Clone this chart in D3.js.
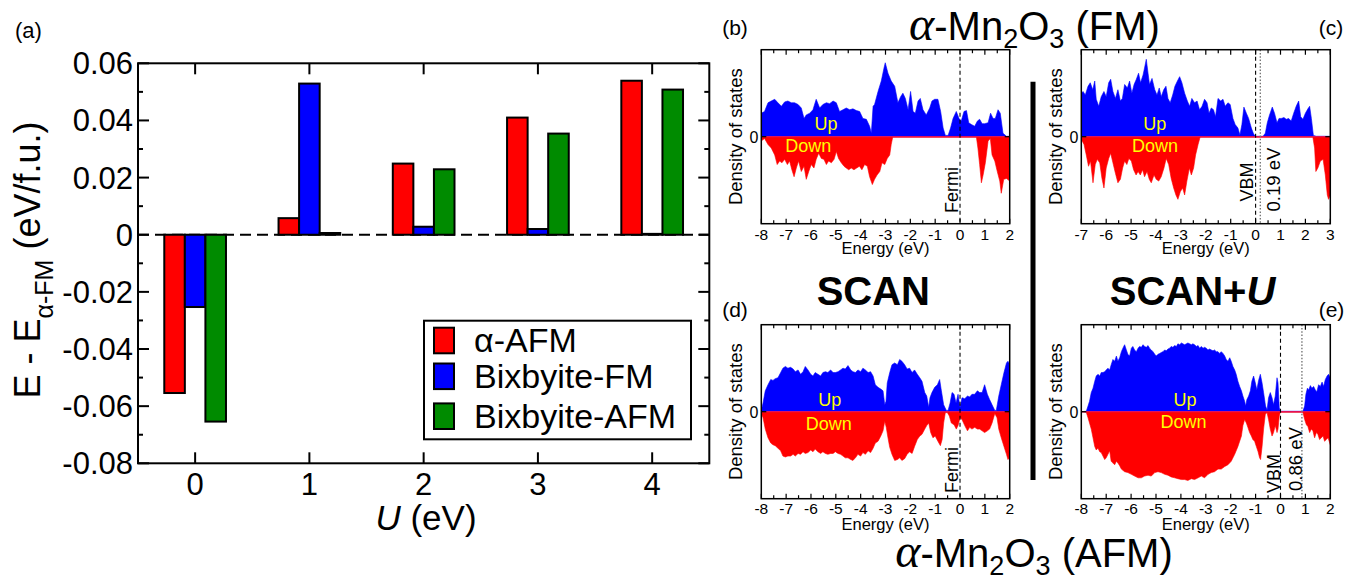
<!DOCTYPE html>
<html><head><meta charset="utf-8">
<script src="https://cdn.jsdelivr.net/npm/d3@7"></script>
<style>
body{margin:0;background:#fff}
svg{display:block}
text{font-family:"Liberation Sans",Arial,Helvetica,sans-serif;fill:#000}
</style>
</head><body>
<svg id="fig" width="1347" height="575"></svg>
<script>
// ---------------- DATA: panel (a) ----------------
const U = [0, 1, 2, 3, 4];
const seriesNames = ["α-AFM", "Bixbyite-FM", "Bixbyite-AFM"];
const alphaAFM = [-0.0554, 0.0058, 0.0249, 0.0410, 0.0539];
const bixbyiteFM = [-0.0253, 0.0529, 0.0028, 0.0020, 0.0003];
const bixbyiteAFM = [-0.0654, 0.0006, 0.0229, 0.0354, 0.0508];
const yTicksA = [-0.08, -0.06, -0.04, -0.02, 0, 0.02, 0.04, 0.06];
const yTickLabelsA = ["-0.08", "-0.06", "-0.04", "-0.02", "0", "0.02", "0.04", "0.06"];
const yMinorA = [-0.07, -0.05, -0.03, -0.01, 0.01, 0.03, 0.05];
const xTickLabelsA = ["0", "1", "2", "3", "4"];

// ---------------- DATA: DOS panels [energy eV, DOS (arb.)] ----------------
const dosTicksB = [-8, -7, -6, -5, -4, -3, -2, -1, 0, 1, 2];
const dosTicksC = [-7, -6, -5, -4, -3, -2, -1, 0, 1, 2, 3];

const dosB_up = [[-8.00,2.7],[-7.87,2.9],[-7.73,3.9],[-7.60,4.1],[-7.46,4.3],[-7.33,3.9],[-7.19,3.5],[-7.06,4.0],[-6.93,4.1],[-6.79,3.9],[-6.66,3.9],[-6.52,3.7],[-6.39,3.3],[-6.28,2.1],[-6.19,2.5],[-6.05,2.7],[-5.92,3.1],[-5.79,4.3],[-5.65,3.3],[-5.52,3.7],[-5.38,3.9],[-5.25,3.8],[-5.11,4.1],[-4.98,3.9],[-4.85,2.9],[-4.71,3.1],[-4.58,3.3],[-4.44,3.1],[-4.31,3.2],[-4.17,3.0],[-4.04,2.9],[-3.91,2.1],[-3.77,2.0],[-3.64,1.2],[-3.57,0.4],[-3.50,3.5],[-3.44,3.7],[-3.30,5.2],[-3.17,6.4],[-3.06,7.9],[-3.01,8.5],[-2.90,7.3],[-2.77,6.4],[-2.63,5.8],[-2.50,3.9],[-2.39,4.6],[-2.30,5.0],[-2.20,4.4],[-2.09,3.1],[-1.99,5.2],[-1.89,2.9],[-1.80,2.7],[-1.69,4.1],[-1.60,4.4],[-1.49,3.1],[-1.36,2.5],[-1.22,3.3],[-1.13,4.1],[-1.02,4.3],[-0.89,4.3],[-0.78,2.9],[-0.68,1.0],[-0.59,0.15],[-0.48,0.15],[-0.38,1.0],[-0.28,2.1],[-0.15,2.9],[-0.04,2.1],[0.05,1.8],[0.16,2.9],[0.26,3.0],[0.35,1.6],[0.46,1.4],[0.59,1.2],[0.70,1.8],[0.79,2.0],[0.89,1.5],[0.99,1.5],[1.13,1.6],[1.23,2.7],[1.33,2.1],[1.42,2.1],[1.53,3.1],[1.62,2.7],[1.73,0.4],[1.87,0.05],[2.00,0.05]];
const dosB_dn = [[-8.00,0.5],[-7.87,0.2],[-7.73,0.9],[-7.60,1.3],[-7.46,2.1],[-7.36,3.2],[-7.26,2.8],[-7.17,3.0],[-7.06,2.6],[-6.95,3.2],[-6.86,2.8],[-6.77,3.8],[-6.68,4.6],[-6.59,3.6],[-6.50,2.8],[-6.39,4.0],[-6.28,3.4],[-6.19,4.9],[-6.09,4.0],[-5.99,3.2],[-5.88,3.6],[-5.79,2.6],[-5.69,1.9],[-5.58,2.5],[-5.48,2.6],[-5.38,3.2],[-5.29,2.8],[-5.18,3.0],[-5.07,2.6],[-4.98,1.7],[-4.89,2.5],[-4.78,3.0],[-4.67,3.4],[-4.58,3.6],[-4.48,3.8],[-4.38,3.6],[-4.27,3.8],[-4.16,3.6],[-4.05,3.4],[-3.95,3.8],[-3.84,3.2],[-3.73,3.4],[-3.64,4.6],[-3.53,5.5],[-3.44,4.9],[-3.34,4.4],[-3.23,4.0],[-3.14,3.0],[-3.03,3.2],[-2.93,2.5],[-2.83,2.1],[-2.77,0.9],[-2.71,0.05],[0.66,0.05],[0.72,1.3],[0.79,3.2],[0.86,5.3],[0.93,4.4],[1.02,3.0],[1.13,0.5],[1.22,0.2],[1.29,2.1],[1.40,2.8],[1.50,4.0],[1.60,5.1],[1.66,6.5],[1.76,4.9],[1.87,4.8],[2.00,5.1]];

const dosC_up = [[-7.00,5.0],[-6.93,5.2],[-6.84,4.8],[-6.73,5.8],[-6.64,6.2],[-6.54,5.4],[-6.46,6.4],[-6.40,4.3],[-6.30,3.5],[-6.20,4.6],[-6.09,5.2],[-6.00,4.6],[-5.90,6.2],[-5.82,6.6],[-5.73,5.2],[-5.63,4.4],[-5.53,5.4],[-5.43,4.1],[-5.35,4.4],[-5.26,6.0],[-5.15,5.6],[-5.06,6.4],[-4.97,5.0],[-4.88,6.0],[-4.79,6.6],[-4.70,7.3],[-4.62,6.2],[-4.52,7.1],[-4.46,7.9],[-4.39,8.9],[-4.32,7.3],[-4.26,6.0],[-4.16,6.7],[-4.05,5.4],[-3.96,4.8],[-3.87,5.6],[-3.79,4.6],[-3.69,5.4],[-3.60,5.8],[-3.52,4.4],[-3.43,3.9],[-3.33,4.8],[-3.24,5.8],[-3.14,6.4],[-3.05,6.9],[-2.96,6.2],[-2.85,5.0],[-2.74,4.1],[-2.65,3.5],[-2.56,4.4],[-2.45,3.9],[-2.35,4.1],[-2.25,3.1],[-2.15,3.5],[-2.05,4.3],[-1.95,3.9],[-1.87,2.7],[-1.78,3.3],[-1.69,3.1],[-1.61,2.3],[-1.51,4.4],[-1.40,4.1],[-1.31,4.3],[-1.22,3.5],[-1.11,3.9],[-1.02,3.7],[-0.91,2.1],[-0.82,1.4],[-0.71,1.0],[-0.63,0.2],[-0.55,1.4],[-0.47,3.4],[-0.37,2.7],[-0.28,2.1],[-0.17,1.0],[-0.08,0.3],[0.00,0.05],[0.30,0.05],[0.39,0.4],[0.47,1.6],[0.56,2.5],[0.67,3.4],[0.76,2.7],[0.86,1.6],[0.94,2.1],[1.03,2.1],[1.14,2.2],[1.23,2.0],[1.33,2.1],[1.43,1.8],[1.53,2.7],[1.63,3.5],[1.73,4.1],[1.81,2.3],[1.90,2.0],[2.00,2.7],[2.10,3.2],[2.17,3.5],[2.24,2.1],[2.32,0.15],[2.44,0.05],[3.00,0.05]];
const dosC_dn = [[-7.00,0.3],[-6.89,0.9],[-6.80,2.1],[-6.71,3.4],[-6.63,2.8],[-6.53,5.3],[-6.44,3.2],[-6.36,2.6],[-6.26,3.0],[-6.17,4.8],[-6.09,5.9],[-6.00,3.6],[-5.90,2.5],[-5.82,1.9],[-5.73,3.0],[-5.63,4.2],[-5.53,5.3],[-5.43,4.9],[-5.34,3.6],[-5.26,2.8],[-5.17,3.2],[-5.09,2.5],[-4.99,2.8],[-4.90,3.8],[-4.80,4.4],[-4.72,4.0],[-4.63,4.4],[-4.54,3.8],[-4.46,4.6],[-4.36,4.0],[-4.27,4.9],[-4.19,5.3],[-4.08,4.4],[-3.99,4.9],[-3.89,5.1],[-3.79,4.6],[-3.68,3.6],[-3.59,2.5],[-3.49,3.2],[-3.39,4.8],[-3.29,5.9],[-3.20,6.7],[-3.12,7.2],[-3.02,6.3],[-2.93,5.9],[-2.85,6.7],[-2.76,5.1],[-2.66,3.6],[-2.58,4.4],[-2.49,3.6],[-2.41,2.1],[-2.31,0.9],[-2.23,0.05],[2.30,0.05],[2.37,1.3],[2.42,4.0],[2.50,3.6],[2.60,2.8],[2.71,2.6],[2.80,4.4],[2.88,6.7],[2.93,7.2],[3.00,6.7]];

const dosD_up = [[-8.00,0.15],[-7.93,1.0],[-7.84,2.4],[-7.73,3.1],[-7.62,3.7],[-7.53,3.6],[-7.44,3.8],[-7.33,3.9],[-7.22,4.5],[-7.13,5.0],[-7.03,5.2],[-6.93,5.0],[-6.82,5.1],[-6.72,4.9],[-6.63,4.6],[-6.52,4.8],[-6.42,4.3],[-6.32,4.6],[-6.23,5.2],[-6.12,4.8],[-6.01,4.3],[-5.92,4.1],[-5.83,4.5],[-5.72,4.3],[-5.61,4.1],[-5.52,4.5],[-5.42,4.6],[-5.32,4.5],[-5.21,4.8],[-5.11,4.5],[-5.02,4.5],[-4.91,4.6],[-4.81,4.8],[-4.71,5.0],[-4.62,4.9],[-4.51,5.3],[-4.40,4.8],[-4.31,4.6],[-4.21,4.5],[-4.11,4.8],[-4.00,4.6],[-3.91,5.0],[-3.81,4.8],[-3.70,4.5],[-3.60,4.6],[-3.50,4.1],[-3.41,3.1],[-3.30,2.8],[-3.19,2.6],[-3.10,2.4],[-3.03,0.8],[-2.98,1.2],[-2.93,3.3],[-2.83,4.5],[-2.74,5.4],[-2.63,5.6],[-2.52,5.4],[-2.43,6.0],[-2.34,5.8],[-2.23,5.4],[-2.13,4.9],[-2.03,5.0],[-1.93,4.5],[-1.83,4.8],[-1.72,4.3],[-1.62,3.9],[-1.53,3.5],[-1.42,2.2],[-1.34,1.8],[-1.26,0.5],[-1.21,1.6],[-1.13,2.2],[-1.02,2.8],[-0.91,3.1],[-0.82,3.7],[-0.75,2.4],[-0.66,0.8],[-0.55,0.15],[-0.48,0.15],[-0.40,1.0],[-0.32,2.2],[-0.24,2.0],[-0.16,1.0],[-0.08,2.0],[0.00,0.5],[0.08,1.6],[0.19,1.5],[0.30,1.8],[0.39,1.7],[0.48,2.0],[0.59,2.0],[0.70,2.4],[0.79,2.2],[0.89,2.2],[0.99,3.1],[1.10,2.0],[1.19,1.4],[1.29,0.8],[1.40,0.15],[1.46,0.15],[1.56,1.8],[1.66,3.1],[1.77,4.5],[1.87,5.6],[1.93,5.8],[2.00,5.4]];
const dosD_dn = [[-8.00,0.2],[-7.93,0.7],[-7.84,2.0],[-7.73,3.0],[-7.62,3.6],[-7.53,3.8],[-7.44,3.9],[-7.33,4.2],[-7.22,4.5],[-7.13,5.1],[-7.03,5.2],[-6.93,5.1],[-6.82,5.1],[-6.72,4.9],[-6.63,5.1],[-6.52,4.8],[-6.42,4.9],[-6.32,4.6],[-6.23,4.8],[-6.12,4.7],[-6.01,4.4],[-5.92,4.6],[-5.83,4.3],[-5.72,4.6],[-5.61,4.8],[-5.52,4.6],[-5.42,4.8],[-5.32,4.9],[-5.21,4.8],[-5.11,4.8],[-5.02,4.6],[-4.91,4.8],[-4.81,4.9],[-4.71,5.1],[-4.62,5.3],[-4.51,5.3],[-4.40,5.5],[-4.31,5.6],[-4.21,5.3],[-4.11,4.9],[-4.00,5.1],[-3.91,4.7],[-3.81,4.9],[-3.70,4.5],[-3.60,4.7],[-3.50,4.2],[-3.41,3.6],[-3.30,3.4],[-3.19,2.8],[-3.10,2.2],[-3.03,1.1],[-2.97,1.8],[-2.90,3.0],[-2.83,4.1],[-2.74,4.9],[-2.63,5.6],[-2.52,5.5],[-2.43,5.3],[-2.34,5.6],[-2.23,5.4],[-2.13,4.9],[-2.03,4.6],[-1.93,4.8],[-1.83,4.0],[-1.72,3.2],[-1.62,2.8],[-1.53,2.6],[-1.42,2.0],[-1.34,1.6],[-1.26,1.3],[-1.18,2.4],[-1.09,3.0],[-1.00,2.8],[-0.89,3.4],[-0.79,3.9],[-0.72,3.2],[-0.66,1.3],[-0.59,0.1],[-0.51,0.1],[-0.43,0.5],[-0.35,1.3],[-0.24,1.5],[-0.15,2.0],[-0.08,1.6],[0.00,0.7],[0.08,0.9],[0.19,1.6],[0.30,2.2],[0.39,1.8],[0.48,2.0],[0.59,1.8],[0.70,2.0],[0.79,2.0],[0.89,2.2],[0.99,2.4],[1.10,2.2],[1.19,2.0],[1.29,1.3],[1.40,0.2],[1.49,0.7],[1.56,2.0],[1.66,3.0],[1.77,4.0],[1.87,4.9],[1.93,5.5],[2.00,5.3]];

const dosE_up = [[-8.00,0],[-7.80,0.05],[-7.73,0.65],[-7.67,1.2],[-7.60,2.2],[-7.53,2.7],[-7.46,3.5],[-7.40,4.1],[-7.33,4.3],[-7.26,4.1],[-7.20,4.5],[-7.13,4.5],[-7.06,4.6],[-7.00,4.8],[-6.93,5.0],[-6.86,4.8],[-6.80,5.4],[-6.73,6.0],[-6.66,5.8],[-6.59,6.4],[-6.53,5.8],[-6.46,6.2],[-6.39,6.9],[-6.33,7.3],[-6.26,7.7],[-6.19,7.1],[-6.13,6.6],[-6.06,6.4],[-5.99,7.3],[-5.93,7.5],[-5.86,7.1],[-5.79,6.9],[-5.72,7.3],[-5.66,7.5],[-5.59,7.4],[-5.52,7.7],[-5.46,7.5],[-5.39,7.4],[-5.32,7.6],[-5.26,7.3],[-5.19,7.1],[-5.12,6.9],[-5.05,6.6],[-4.99,6.4],[-4.92,6.6],[-4.85,6.7],[-4.79,6.8],[-4.72,6.9],[-4.65,7.1],[-4.59,7.0],[-4.52,7.2],[-4.45,7.3],[-4.39,7.5],[-4.32,7.4],[-4.25,7.6],[-4.18,7.5],[-4.12,7.8],[-4.05,7.7],[-3.98,7.9],[-3.92,7.8],[-3.85,7.7],[-3.78,7.8],[-3.72,7.9],[-3.65,7.8],[-3.58,7.7],[-3.52,7.8],[-3.45,7.7],[-3.38,7.5],[-3.31,7.6],[-3.25,7.3],[-3.18,7.5],[-3.11,7.3],[-3.05,7.4],[-2.98,7.3],[-2.91,7.1],[-2.85,7.2],[-2.78,7.1],[-2.71,7.0],[-2.65,7.1],[-2.58,6.9],[-2.51,6.9],[-2.44,6.7],[-2.38,6.9],[-2.31,6.7],[-2.24,6.4],[-2.18,6.0],[-2.11,5.8],[-2.04,6.2],[-1.98,5.8],[-1.91,5.2],[-1.84,4.8],[-1.78,4.3],[-1.71,3.5],[-1.64,2.9],[-1.57,2.4],[-1.51,1.8],[-1.44,1.2],[-1.40,0.65],[-1.35,1.4],[-1.28,1.8],[-1.21,2.4],[-1.15,3.5],[-1.08,4.1],[-1.01,3.3],[-0.95,2.5],[-0.88,3.6],[-0.81,4.3],[-0.74,3.3],[-0.68,2.2],[-0.60,0.65],[-0.54,0.2],[-0.48,1.6],[-0.41,2.2],[-0.34,1.6],[-0.28,0.8],[-0.21,1.8],[-0.14,3.9],[-0.10,3.3],[-0.05,0.45],[-0.01,0.05],[0.90,0.05],[0.97,0.65],[1.02,2.0],[1.08,2.7],[1.13,2.5],[1.20,3.0],[1.26,2.7],[1.33,2.9],[1.40,2.5],[1.46,2.3],[1.53,3.1],[1.60,2.9],[1.67,3.4],[1.73,2.9],[1.80,3.7],[1.87,4.1],[1.93,4.3],[2.00,3.9]];
const dosE_dn = [[-8.00,0],[-7.80,0.05],[-7.73,0.7],[-7.67,1.3],[-7.60,2.0],[-7.53,3.0],[-7.46,4.0],[-7.40,4.4],[-7.33,4.2],[-7.26,4.6],[-7.20,4.7],[-7.13,5.1],[-7.06,5.5],[-7.00,5.3],[-6.93,4.9],[-6.86,4.5],[-6.80,5.7],[-6.73,5.9],[-6.66,6.1],[-6.59,5.7],[-6.53,5.9],[-6.46,6.2],[-6.39,6.6],[-6.26,6.9],[-6.13,7.0],[-5.99,7.2],[-5.86,7.4],[-5.72,7.6],[-5.59,7.6],[-5.46,7.4],[-5.32,7.3],[-5.19,7.4],[-5.05,7.0],[-4.92,6.9],[-4.79,7.0],[-4.65,7.2],[-4.52,7.3],[-4.39,7.5],[-4.25,7.6],[-4.12,7.7],[-3.98,7.8],[-3.85,7.8],[-3.72,7.9],[-3.58,7.7],[-3.45,7.8],[-3.31,7.6],[-3.18,7.4],[-3.05,7.6],[-2.91,7.2],[-2.78,7.0],[-2.65,6.9],[-2.51,6.6],[-2.38,6.6],[-2.24,6.3],[-2.11,6.1],[-1.98,5.7],[-1.84,4.9],[-1.71,4.0],[-1.57,2.8],[-1.51,1.6],[-1.44,0.9],[-1.37,1.3],[-1.31,1.8],[-1.24,2.4],[-1.17,2.8],[-1.11,3.2],[-1.04,3.4],[-0.97,4.0],[-0.90,4.6],[-0.84,5.3],[-0.80,5.5],[-0.74,4.0],[-0.68,2.0],[-0.61,0.3],[-0.54,0.1],[-0.48,0.9],[-0.41,2.0],[-0.34,2.8],[-0.28,2.4],[-0.21,1.6],[-0.14,2.4],[-0.10,2.0],[-0.05,0.5],[-0.01,0.05],[0.90,0.05],[0.97,0.9],[1.04,1.5],[1.10,1.7],[1.17,2.4],[1.24,2.0],[1.30,2.2],[1.37,3.0],[1.44,2.4],[1.50,2.6],[1.57,3.2],[1.64,3.0],[1.71,2.8],[1.77,3.4],[1.84,3.2],[1.91,3.0],[2.00,3.8]];

// ---------------- DRAW ----------------
const svg = d3.select("#fig");
const SERIF = "'Liberation Serif', 'Times New Roman', serif";

// ===== Panel (a) =====
const A = {l: 138, r: 709.3, t: 63.3, b: 463.3};
const xA = d3.scaleLinear().domain([-0.5, 4.5]).range([A.l, A.r]);
const yA = d3.scaleLinear().domain([-0.08, 0.06]).range([A.b, A.t]);
const barColors = ["#ff0000", "#0000ff", "#008b00"];
const barOffsets = [-0.18, 0, 0.18];
const barW = 0.18;
const seriesVals = [alphaAFM, bixbyiteFM, bixbyiteAFM];

const gA = svg.append("g");
gA.append("line").attr("x1", A.l).attr("x2", A.r).attr("y1", yA(0)).attr("y2", yA(0))
  .attr("stroke", "#000").attr("stroke-width", 2).attr("stroke-dasharray", "11,6");

seriesVals.forEach((vals, s) => {
  gA.selectAll(null).data(vals.map((v, i) => ({u: U[i], v}))).enter().append("rect")
    .attr("x", d => xA(d.u + barOffsets[s] - barW / 2))
    .attr("width", xA(barW) - xA(0))
    .attr("y", d => yA(Math.max(0, d.v)))
    .attr("height", d => Math.abs(yA(d.v) - yA(0)))
    .attr("fill", barColors[s]).attr("stroke", "#000").attr("stroke-width", 2);
});

gA.append("rect").attr("x", A.l).attr("y", A.t).attr("width", A.r - A.l).attr("height", A.b - A.t)
  .attr("fill", "none").attr("stroke", "#000").attr("stroke-width", 2);

yTicksA.forEach(v => {
  gA.append("line").attr("x1", A.l).attr("x2", A.l + 11).attr("y1", yA(v)).attr("y2", yA(v)).attr("stroke", "#000").attr("stroke-width", 2);
  gA.append("line").attr("x1", A.r - 11).attr("x2", A.r).attr("y1", yA(v)).attr("y2", yA(v)).attr("stroke", "#000").attr("stroke-width", 2);
});
yMinorA.forEach(v => {
  gA.append("line").attr("x1", A.l).attr("x2", A.l + 5).attr("y1", yA(v)).attr("y2", yA(v)).attr("stroke", "#000").attr("stroke-width", 2);
  gA.append("line").attr("x1", A.r - 5).attr("x2", A.r).attr("y1", yA(v)).attr("y2", yA(v)).attr("stroke", "#000").attr("stroke-width", 2);
});
U.forEach(u => {
  gA.append("line").attr("x1", xA(u)).attr("x2", xA(u)).attr("y1", A.b).attr("y2", A.b - 11).attr("stroke", "#000").attr("stroke-width", 2);
  gA.append("line").attr("x1", xA(u)).attr("x2", xA(u)).attr("y1", A.t).attr("y2", A.t + 11).attr("stroke", "#000").attr("stroke-width", 2);
});
yTicksA.forEach((v, i) => {
  gA.append("text").attr("x", 133).attr("y", yA(v) + 11).attr("text-anchor", "end")
    .attr("font-size", 31).text(yTickLabelsA[i]);
});
U.forEach((u, i) => {
  gA.append("text").attr("x", xA(u)).attr("y", 495).attr("text-anchor", "middle")
    .attr("font-size", 31).text(xTickLabelsA[i]);
});
const xt = gA.append("text").attr("x", 426).attr("y", 530).attr("text-anchor", "middle").attr("font-size", 35);
xt.append("tspan").attr("font-style", "italic").text("U");
xt.append("tspan").text(" (eV)");
const yt = gA.append("text").attr("transform", "translate(40,260) rotate(-90)").attr("text-anchor", "middle").attr("font-size", 36);
yt.append("tspan").text("E - E");
yt.append("tspan").attr("font-size", 25).attr("dy", 13).text("α-FM");
yt.append("tspan").attr("dy", -13).text(" (eV/f.u.)");
gA.append("text").attr("x", 15).attr("y", 38).attr("font-size", 22).text("(a)");

const LG = {x: 424, y: 320.7, w: 267, h: 118.6};
gA.append("rect").attr("x", LG.x).attr("y", LG.y).attr("width", LG.w).attr("height", LG.h)
  .attr("fill", "#fff").attr("stroke", "#000").attr("stroke-width", 2);
const legCenters = [340.5, 376.3, 416.2];
seriesNames.forEach((name, i) => {
  gA.append("rect").attr("x", 434).attr("y", legCenters[i] - 12.8).attr("width", 20).attr("height", 25.6)
    .attr("fill", barColors[i]).attr("stroke", "#000").attr("stroke-width", 2);
  gA.append("text").attr("x", 474).attr("y", legCenters[i] + 11.5).attr("font-size", 34).text(name);
});

// ===== DOS panels =====
const panels = [
  {id: "b", l: 761.3, r: 1009.7, t: 49.7, b: 223.7, dom: [-8, 2], ticks: dosTicksB, up: dosB_up, dn: dosB_dn,
   label: "(b)", labelXY: [735, 35], tickBase: 240, eBase: 254, dsX: 742, zeroX: 758.5,
   upXY: [826, 129.7], dnXY: [808.3, 152], dashE: 0, dashText: "Fermi", dashTextXY: [958, 213], gapE: null},
  {id: "c", l: 1081.3, r: 1330.3, t: 49.7, b: 223.7, dom: [-7, 3], ticks: dosTicksC, up: dosC_up, dn: dosC_dn,
   label: "(c)", labelXY: [1331, 35], tickBase: 240, eBase: 254, dsX: 1062, zeroX: 1078.3,
   upXY: [1154.7, 129.7], dnXY: [1155, 152], dashE: 0, dashText: "VBM", dashTextXY: [1253, 201.5],
   gapE: 0.19, gapText: "0.19 eV", gapTextXY: [1279.5, 211.5]},
  {id: "d", l: 761.3, r: 1009.7, t: 324.7, b: 498.7, dom: [-8, 2], ticks: dosTicksB, up: dosD_up, dn: dosD_dn,
   label: "(d)", labelXY: [735, 317], tickBase: 513.5, eBase: 530, dsX: 742, zeroX: 758.5,
   upXY: [829.7, 406.3], dnXY: [828.8, 429.7], dashE: 0, dashText: "Fermi", dashTextXY: [958, 493], gapE: null},
  {id: "e", l: 1081.3, r: 1330.3, t: 324.7, b: 498.7, dom: [-8, 2], ticks: dosTicksB, up: dosE_up, dn: dosE_dn,
   label: "(e)", labelXY: [1331.5, 317], tickBase: 513.5, eBase: 530, dsX: 1062, zeroX: 1078.3,
   upXY: [1185, 405.7], dnXY: [1183.5, 428], dashE: 0, dashText: "VBM", dashTextXY: [1279.7, 493],
   gapE: 0.86, gapText: "0.86 eV", gapTextXY: [1301.5, 491]}
];

panels.forEach(p => {
  const x = d3.scaleLinear().domain(p.dom).range([p.l, p.r]);
  const y = d3.scaleLinear().domain([-10, 10]).range([p.b, p.t]);
  const g = svg.append("g");
  const cid = "clip_" + p.id;
  svg.append("clipPath").attr("id", cid).append("rect")
    .attr("x", p.l).attr("y", p.t).attr("width", p.r - p.l).attr("height", p.b - p.t);
  const gc = g.append("g").attr("clip-path", `url(#${cid})`);
  const areaUp = d3.area().x(d => x(d[0])).y0(y(0)).y1(d => y(d[1]));
  const areaDn = d3.area().x(d => x(d[0])).y0(y(0)).y1(d => y(-d[1]));
  gc.append("path").datum(p.up).attr("d", areaUp).attr("fill", "#0000ff").attr("stroke", "#0000ff").attr("stroke-width", 0.6);
  gc.append("path").datum(p.dn).attr("d", areaDn).attr("fill", "#ff0000").attr("stroke", "#ff0000").attr("stroke-width", 0.6);
  gc.append("line").attr("x1", p.l).attr("x2", p.r).attr("y1", y(0)).attr("y2", y(0))
    .attr("stroke", "#e0105a").attr("stroke-width", 1.3);
  gc.append("line").attr("x1", x(p.dashE)).attr("x2", x(p.dashE)).attr("y1", p.t).attr("y2", p.b)
    .attr("stroke", "#000").attr("stroke-width", 1.1).attr("stroke-dasharray", "4,3");
  if (p.gapE !== null) {
    gc.append("line").attr("x1", x(p.gapE)).attr("x2", x(p.gapE)).attr("y1", p.t).attr("y2", p.b)
      .attr("stroke", "#777").attr("stroke-width", 1.4).attr("stroke-dasharray", "1.5,1.8");
  }
  g.append("rect").attr("x", p.l).attr("y", p.t).attr("width", p.r - p.l).attr("height", p.b - p.t)
    .attr("fill", "none").attr("stroke", "#000").attr("stroke-width", 1.5);
  const minor = x.ticks(20).filter(v => !Number.isInteger(v));
  p.ticks.forEach(v => {
    g.append("line").attr("x1", x(v)).attr("x2", x(v)).attr("y1", p.b).attr("y2", p.b - 5).attr("stroke", "#000").attr("stroke-width", 1.2);
    g.append("line").attr("x1", x(v)).attr("x2", x(v)).attr("y1", p.t).attr("y2", p.t + 5).attr("stroke", "#000").attr("stroke-width", 1.2);
    g.append("text").attr("x", x(v)).attr("y", p.tickBase).attr("text-anchor", "middle").attr("font-size", 15.5).text(String(v));
  });
  minor.forEach(v => {
    g.append("line").attr("x1", x(v)).attr("x2", x(v)).attr("y1", p.b).attr("y2", p.b - 3.5).attr("stroke", "#000").attr("stroke-width", 1.2);
    g.append("line").attr("x1", x(v)).attr("x2", x(v)).attr("y1", p.t).attr("y2", p.t + 3.5).attr("stroke", "#000").attr("stroke-width", 1.2);
  });
  g.append("line").attr("x1", p.l).attr("x2", p.l + 5).attr("y1", y(0)).attr("y2", y(0)).attr("stroke", "#000").attr("stroke-width", 1.2);
  g.append("line").attr("x1", p.r - 5).attr("x2", p.r).attr("y1", y(0)).attr("y2", y(0)).attr("stroke", "#000").attr("stroke-width", 1.2);
  g.append("text").attr("x", p.zeroX).attr("y", y(0) + 5.8).attr("text-anchor", "end").attr("font-size", 16).text("0");
  g.append("text").attr("x", (p.l + p.r) / 2).attr("y", p.eBase).attr("text-anchor", "middle").attr("font-size", 16.5).text("Energy (eV)");
  g.append("text").attr("transform", `translate(${p.dsX},${(p.t + p.b) / 2}) rotate(-90)`)
    .attr("text-anchor", "middle").attr("font-size", 18.5).text("Density of states");
  g.append("text").attr("x", p.upXY[0]).attr("y", p.upXY[1]).attr("text-anchor", "middle").attr("font-size", 18)
    .style("fill", "#ffff00").text("Up");
  g.append("text").attr("x", p.dnXY[0]).attr("y", p.dnXY[1]).attr("text-anchor", "middle").attr("font-size", 18)
    .style("fill", "#ffff00").text("Down");
  g.append("text").attr("transform", `translate(${p.dashTextXY[0]},${p.dashTextXY[1]}) rotate(-90)`)
    .attr("font-size", 18).text(p.dashText);
  if (p.gapE !== null) {
    g.append("text").attr("transform", `translate(${p.gapTextXY[0]},${p.gapTextXY[1]}) rotate(-90)`)
      .attr("font-size", 18.5).text(p.gapText);
  }
  g.append("text").attr("x", p.labelXY[0]).attr("y", p.labelXY[1]).attr("text-anchor", "middle")
    .attr("font-size", 21).text(p.label);
});

svg.append("line").attr("x1", 1033).attr("x2", 1033).attr("y1", 81.7).attr("y2", 480)
  .attr("stroke", "#000").attr("stroke-width", 5);

function mnTitle(cx, base, tail) {
  const t = svg.append("text").attr("x", cx).attr("y", base).attr("text-anchor", "middle").attr("font-size", 40);
  t.append("tspan").attr("font-family", SERIF).attr("font-style", "italic").attr("font-size", 48).text("α");
  t.append("tspan").text("-Mn");
  t.append("tspan").attr("font-size", 27).attr("dy", 8).text("2");
  t.append("tspan").attr("dy", -8).text("O");
  t.append("tspan").attr("font-size", 27).attr("dy", 8).text("3");
  t.append("tspan").attr("dy", -8).text(" " + tail);
}
mnTitle(1034.5, 39.5, "(FM)");
mnTitle(1034, 566.7, "(AFM)");

svg.append("text").attr("x", 873.3).attr("y", 305).attr("text-anchor", "middle").attr("font-size", 40)
  .attr("font-weight", "bold").text("SCAN");
const su = svg.append("text").attr("x", 1192.5).attr("y", 305).attr("text-anchor", "middle").attr("font-size", 40).attr("font-weight", "bold");
su.append("tspan").text("SCAN+");
su.append("tspan").attr("font-style", "italic").text("U");
</script>
</body></html>
